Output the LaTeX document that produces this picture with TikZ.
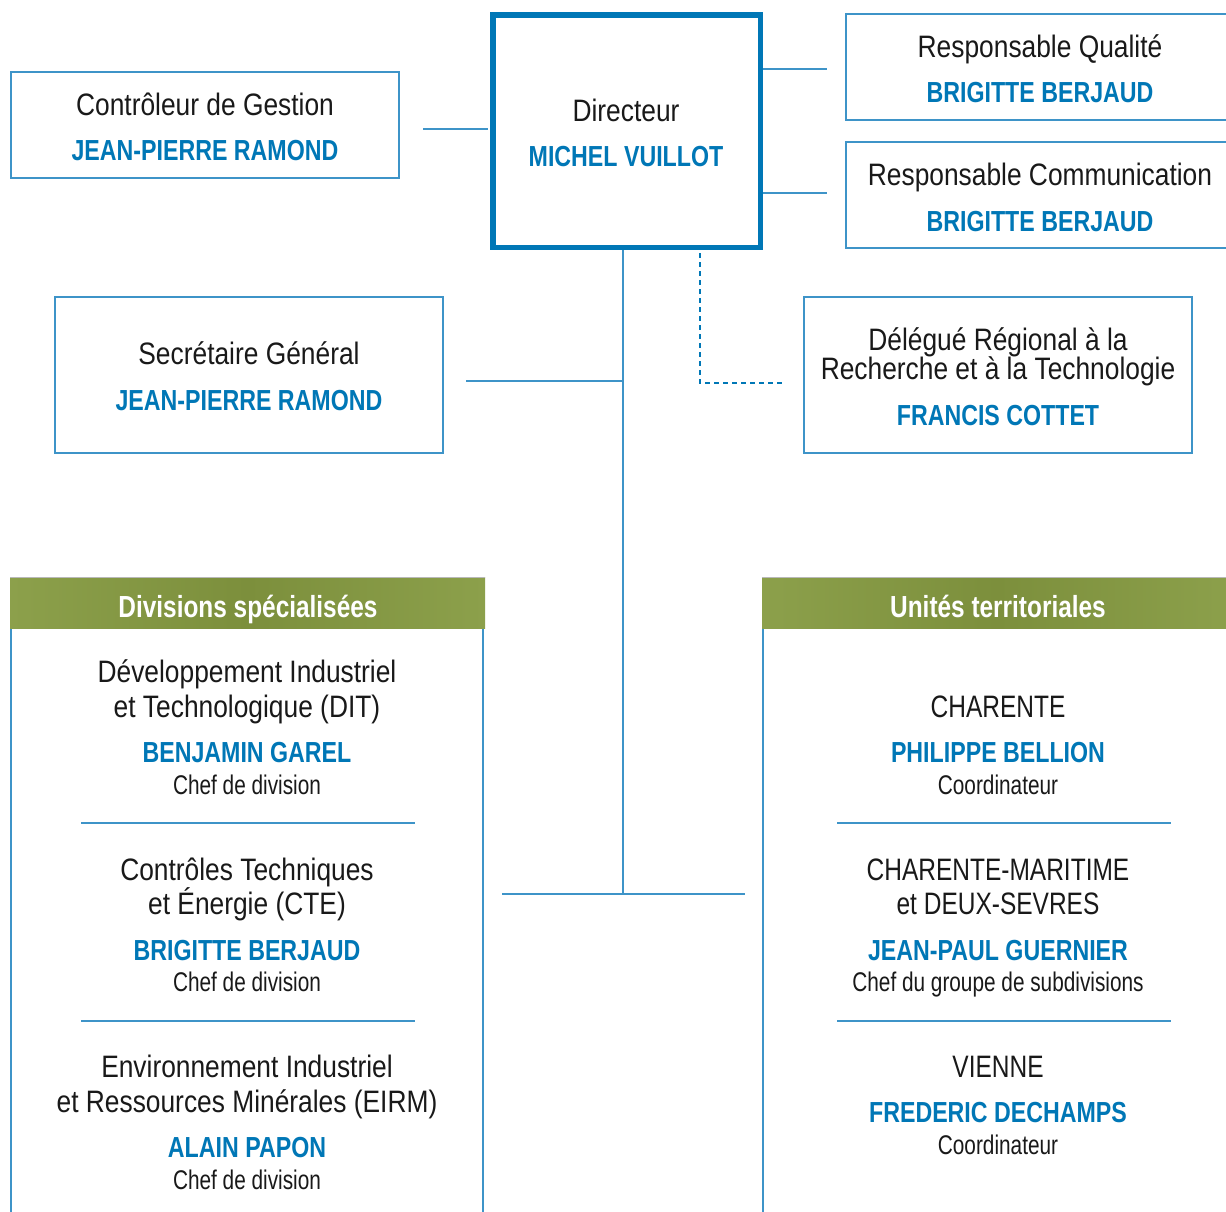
\documentclass[tikz,border=0pt]{standalone}
\usepackage{fontspec}
\setmainfont{Liberation Sans}
\newfontfamily\rgf{Liberation Sans}[FakeStretch=0.85]
\newfontfamily\rgcf{Liberation Sans}[FakeStretch=0.79]
\newfontfamily\nmf{Liberation Sans}[FakeStretch=0.80]
\newfontfamily\smf{Liberation Sans}[FakeStretch=0.77]
\definecolor{nameblue}{RGB}{0,119,182}
\definecolor{lineblue}{RGB}{62,148,200}
\definecolor{dirblue}{RGB}{0,119,182}
\definecolor{txtcol}{RGB}{25,25,25}
\definecolor{gA}{RGB}{140,160,75}
\definecolor{gB}{RGB}{124,143,60}
\definecolor{topgray}{RGB}{185,185,185}
\begin{document}
\begin{tikzpicture}[x=1pt,y=-1pt,
  box/.style={draw=lineblue,line width=1.4pt,inner sep=0pt,outer sep=0pt,fill=white},
  dirbox/.style={draw=dirblue,line width=5.5pt,inner sep=0pt,outer sep=0pt,fill=white},
  txt/.style={anchor=base,inner sep=0pt,text=txtcol,font=\rgf\fontsize{31}{35}\selectfont},
  txtc/.style={anchor=base,inner sep=0pt,text=txtcol,font=\rgcf\fontsize{31}{35}\selectfont},
  nm/.style={anchor=base,inner sep=0pt,text=nameblue,font=\nmf\bfseries\fontsize{29}{33}\selectfont},
  sm/.style={anchor=base,inner sep=0pt,text=txtcol,font=\smf\fontsize{27}{30}\selectfont},
  hd/.style={anchor=base,inner sep=0pt,text=white,font=\nmf\bfseries\fontsize{30.5}{34}\selectfont},
  hdbar/.style={inner sep=0pt,outer sep=0pt,left color=gA,right color=gA,middle color=gB},
  conn/.style={draw=lineblue,line width=1.4pt},
  dconn/.style={draw=dirblue,line width=1.4pt,dash pattern=on 5pt off 4pt},
  sep/.style={draw=lineblue,line width=1.4pt}]
\useasboundingbox (0,0) rectangle (1226,1211);
\fill[white] (0,0) rectangle (1226,1211);

% ---- top boxes
\node[box,minimum width=388pt,minimum height=106pt] (ctrl) at (205,125) {};
\node[txt] (ctrlT) at (205,115) {Contrôleur de Gestion};
\node[nm] (ctrlN) at (205,160) {JEAN-PIERRE RAMOND};

\node[dirbox,minimum width=267.5pt,minimum height=232.5pt] (dir) at (626.5,131) {};
\node[txt] (dirT) at (626,121.5) {Directeur};
\node[nm] (dirN) at (626,166) {MICHEL VUILLOT};

\node[box,minimum width=382pt,minimum height=106pt] (qual) at (1037,67) {};
\node[txt] (qualT) at (1040,57.5) {Responsable Qualité};
\node[nm] (qualN) at (1040,102) {BRIGITTE BERJAUD};

\node[box,minimum width=382pt,minimum height=106pt] (comm) at (1037,195) {};
\node[txt] (commT) at (1040,185.5) {Responsable Communication};
\node[nm] (commN) at (1040,231) {BRIGITTE BERJAUD};

\node[box,minimum width=388pt,minimum height=156pt] (sec) at (249,375) {};
\node[txt] (secT) at (249,364.5) {Secrétaire Général};
\node[nm] (secN) at (249,410) {JEAN-PIERRE RAMOND};

\node[box,minimum width=388pt,minimum height=156pt] (del) at (998,375) {};
\node[txt] (delT1) at (998,350.5) {Délégué Régional à la};
\node[txt] (delT2) at (998,379.5) {Recherche et à la Technologie};
\node[nm] (delN) at (998,425) {FRANCIS COTTET};

% ---- connectors
\coordinate (a1) at (423,129); \coordinate (a2) at (488,129);
\draw[conn] (a1) -- (a2);
\coordinate (q1) at (763,69); \coordinate (q2) at (827,69);
\draw[conn] (q1) -- (q2);
\coordinate (m1) at (763,193); \coordinate (m2) at (827,193);
\draw[conn] (m1) -- (m2);
\coordinate (t1) at (623,250); \coordinate (t2) at (623,894);
\draw[conn] (t1) -- (t2);
\coordinate (s1) at (466,381); \coordinate (s2) at (623,381);
\draw[conn] (s1) -- (s2);
\coordinate (b1) at (502,894); \coordinate (b2) at (745,894);
\draw[conn] (b1) -- (b2);
\coordinate (d1) at (700,253); \coordinate (d2) at (700,383); \coordinate (d3) at (782,383);
\draw[dconn] (d1) -- (d2) -- (d3);

% ---- panels
\node[box,fill=none,minimum width=472pt,minimum height=600pt,anchor=north west] (pL) at (11,628) {};
\node[box,fill=none,minimum width=480pt,minimum height=600pt,anchor=north west] (pR) at (763,628) {};

\node[hdbar,minimum width=475pt,minimum height=51pt,anchor=north west] (hL) at (10,577) {};
\node[hdbar,minimum width=470pt,minimum height=51pt,anchor=north west] (hR) at (762,577) {};
\draw[topgray,line width=1pt] (hL.north west) -- (hL.north east);
\draw[topgray,line width=1pt] (hR.north west) -- (hR.north east);
\node[hd] (hLT) at (248,617.5) {Divisions spécialisées};
\node[hd] (hRT) at (998,617.5) {Unités territoriales};

% ---- left panel content
\node[txt] (l1a) at (247,682.5) {Développement Industriel};
\node[txt] (l1b) at (247,717.5) {et Technologique (DIT)};
\node[nm]  (l1n) at (247,762) {BENJAMIN GAREL};
\node[sm]  (l1r) at (247,794) {Chef de division};
\draw[sep] (81,823) -- (415,823);
\node[txt] (l2a) at (247,880.5) {Contrôles Techniques};
\node[txt] (l2b) at (247,914.5) {et Énergie (CTE)};
\node[nm]  (l2n) at (247,960) {BRIGITTE BERJAUD};
\node[sm]  (l2r) at (247,991) {Chef de division};
\draw[sep] (81,1021) -- (415,1021);
\node[txt] (l3a) at (247,1077.5) {Environnement Industriel};
\node[txt] (l3b) at (247,1112.5) {et Ressources Minérales (EIRM)};
\node[nm]  (l3n) at (247,1157) {ALAIN PAPON};
\node[sm]  (l3r) at (247,1189) {Chef de division};

% ---- right panel content
\node[txtc] (r1a) at (998,717.5) {CHARENTE};
\node[nm]  (r1n) at (998,762) {PHILIPPE BELLION};
\node[sm]  (r1r) at (998,794) {Coordinateur};
\draw[sep] (837,823) -- (1171,823);
\node[txtc] (r2a) at (998,880.5) {CHARENTE-MARITIME};
\node[txtc] (r2b) at (998,914.5) {et DEUX-SEVRES};
\node[nm]  (r2n) at (998,960) {JEAN-PAUL GUERNIER};
\node[sm]  (r2r) at (998,991) {Chef du groupe de subdivisions};
\draw[sep] (837,1021) -- (1171,1021);
\node[txtc] (r3a) at (998,1077.5) {VIENNE};
\node[nm]  (r3n) at (998,1122) {FREDERIC DECHAMPS};
\node[sm]  (r3r) at (998,1154) {Coordinateur};
\end{tikzpicture}
\end{document}
